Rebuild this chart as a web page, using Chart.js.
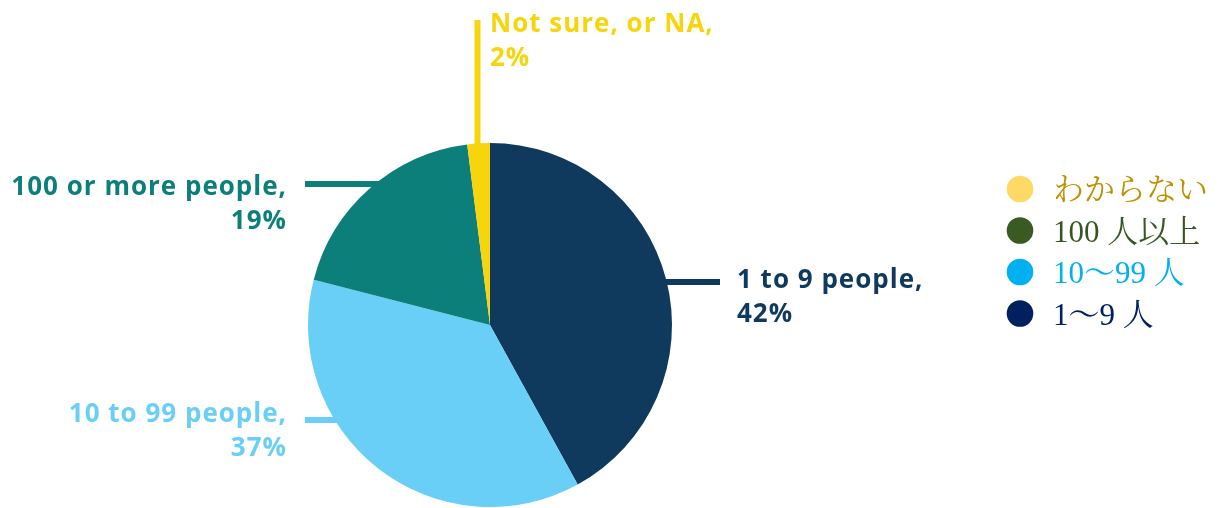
<!DOCTYPE html>
<html>
<head>
<meta charset="utf-8">
<script src="https://cdn.jsdelivr.net/npm/chart.js@4.4.0/dist/chart.umd.min.js"></script>
<style>
  html, body { margin: 0; padding: 0; background: #fff; }
  #wrap { position: relative; width: 1220px; height: 508px; }
</style>
</head>
<body>
<div id="wrap"><canvas id="pieChart"></canvas></div>
<script>
// Slices, clockwise from 12 o'clock
const categories = ['1 to 9 people', '10 to 99 people', '100 or more people', 'Not sure, or NA'];
const shares = [42, 37, 19, 2];
const sliceColors = ['#0f3a5e', '#6acff6', '#0d7f7b', '#f6d50c'];

// Japanese legend on the right, top to bottom
const legendLabels = ['わからない', '100 人以上', '10〜99 人', '1〜9 人'];
const legendDotColors = ['#ffd966', '#3a5a24', '#00b0f0', '#002060'];
const legendTextColors = ['#bf9000', '#375623', '#00b0f0', '#002060'];

// Where each callout label sits (same order as the slices)
const calloutLayout = [
    { side: 'right', lineY: 282, lineEnd: 720, textX: 737, textY: 288, align: 'left' },
    { side: 'left', lineY: 420, lineEnd: 305, textX: 287, textY: 422, align: 'right' },
    { side: 'left', lineY: 184, lineEnd: 305, textX: 287, textY: 195, align: 'right' },
    { side: 'top', lineX: 477.5, lineEnd: 20, textX: 490, textY: 32, align: 'left' }
];
const lineGap = 34;

// Draws the leader lines, the two-line labels and the legend
const calloutPlugin = {
    id: 'callouts',
    afterDatasetsDraw(chart) {
        const ctx = chart.ctx;
        const arc = chart.getDatasetMeta(0).data[0];
        const cx = arc.x, cy = arc.y, r = arc.outerRadius;

        ctx.save();
        calloutLayout.forEach((c, i) => {
            const color = sliceColors[i];
            ctx.strokeStyle = color;
            ctx.lineWidth = 6;
            ctx.beginPath();
            if (c.side === 'top') {
                const dx = c.lineX - cx;
                const yEdge = cy - Math.sqrt(r * r - dx * dx);
                ctx.moveTo(c.lineX, c.lineEnd);
                ctx.lineTo(c.lineX, yEdge + 4);
            } else {
                const dy = c.lineY - cy;
                const half = Math.sqrt(r * r - dy * dy);
                const xEdge = c.side === 'right' ? cx + half - 4 : cx - half + 4;
                ctx.moveTo(c.lineEnd, c.lineY);
                ctx.lineTo(xEdge, c.lineY);
            }
            ctx.stroke();

            ctx.fillStyle = color;
            ctx.font = 'bold 26px "Open Sans"';
            ctx.letterSpacing = '1px';
            ctx.textAlign = c.align;
            ctx.textBaseline = 'alphabetic';
            ctx.fillText(categories[i] + ',', c.textX, c.textY);
            ctx.fillText(shares[i] + '%', c.textX, c.textY + lineGap);
        });

        // legend
        ctx.letterSpacing = '0px';
        ctx.font = '31px "Liberation Serif", "Noto Serif CJK JP", "Noto Sans CJK JP", serif';
        ctx.textAlign = 'left';
        legendLabels.forEach((label, i) => {
            const y = 189 + i * 41.5;
            ctx.fillStyle = legendDotColors[i];
            ctx.beginPath();
            ctx.arc(1020, y, 13.3, 0, Math.PI * 2);
            ctx.fill();
            ctx.fillStyle = legendTextColors[i];
            ctx.fillText(label, 1053, y + 11);
        });
        ctx.restore();
    }
};

new Chart(document.getElementById('pieChart'), {
    type: 'pie',
    data: {
        labels: categories,
        datasets: [{
            data: shares,
            backgroundColor: sliceColors,
            borderWidth: 0,
            hoverOffset: 0
        }]
    },
    options: {
        responsive: true,
        maintainAspectRatio: false,
        animation: false,
        layout: { padding: { top: 143, bottom: 1, left: 0, right: 240 } },
        plugins: {
            legend: { display: false },
            tooltip: { enabled: false }
        }
    },
    plugins: [calloutPlugin]
});
</script>
</body>
</html>
